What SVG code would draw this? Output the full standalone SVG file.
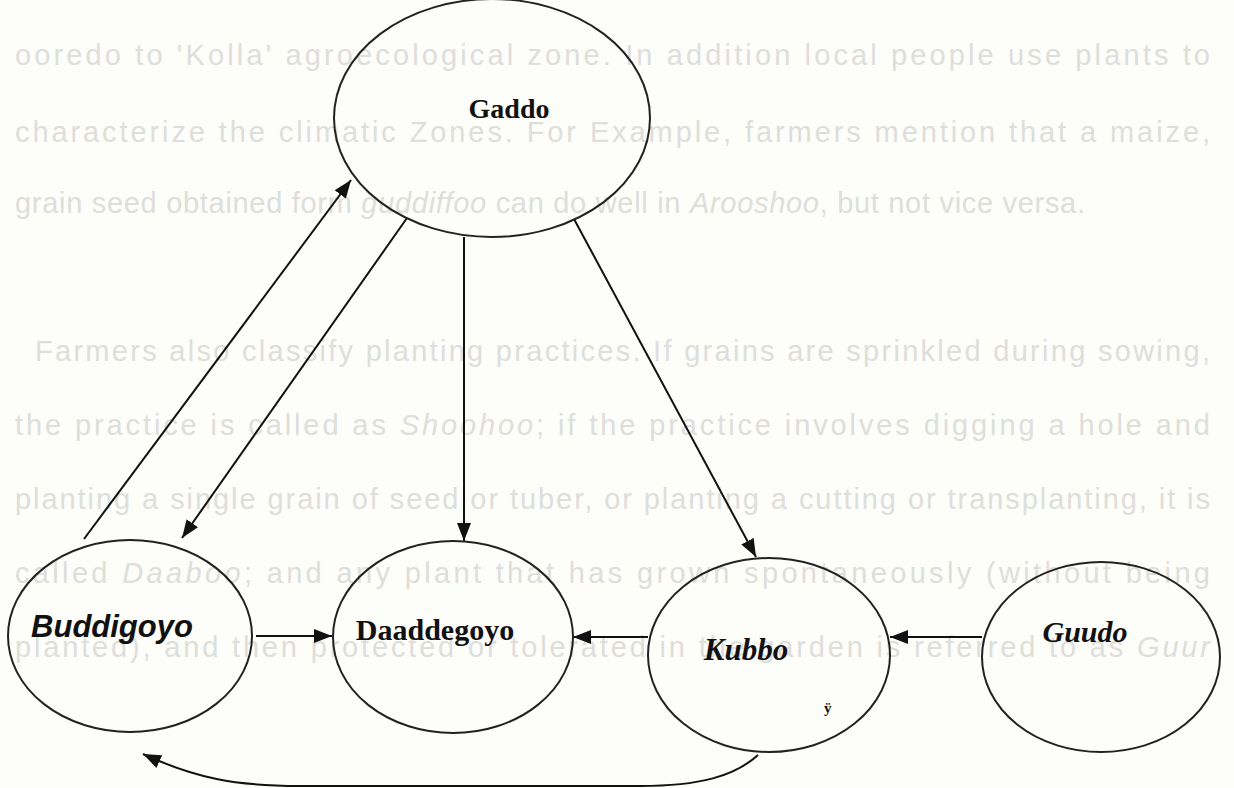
<svg xmlns="http://www.w3.org/2000/svg" width="1234" height="788" viewBox="0 0 1234 788">
  <defs>
    <marker id="ah" viewBox="0 0 18 14" refX="18" refY="7" markerWidth="18" markerHeight="14" markerUnits="userSpaceOnUse" orient="auto">
      <path d="M0,0 L18,7 L0,14 z" fill="#111"/>
    </marker>
    <style>
      .bg { font-family: "Liberation Sans", Arial, sans-serif; font-size: 29px; fill: #dededa; }
      .node { fill: none; stroke: #222; stroke-width: 2; }
      .edge { fill: none; stroke: #111; stroke-width: 2; marker-end: url(#ah); }
      .lbl { font-family: "Liberation Serif", "Times New Roman", serif; font-weight: bold; fill: #111; }
      .sans { font-family: "Liberation Sans", Arial, sans-serif; font-weight: bold; font-style: italic; fill: #111; }
    </style>
  </defs>
  <rect width="1234" height="788" fill="#fdfdfa"/>

  <g id="background-text">
    <text class="bg" x="15" y="65" textLength="1195" lengthAdjust="spacing">ooredo to 'Kolla' agroecological zone. In addition local people use plants to</text>
    <text class="bg" x="15" y="142" textLength="1195" lengthAdjust="spacing">characterize the climatic Zones.  For Example, farmers mention that a maize,</text>
    <text class="bg" x="15" y="213" textLength="1070" lengthAdjust="spacing">grain seed obtained form <tspan font-style="italic">guddiffoo</tspan> can do well in <tspan font-style="italic">Arooshoo</tspan>, but not vice versa.</text>
    <text class="bg" x="35" y="361" textLength="1175" lengthAdjust="spacing">Farmers also classify planting practices.  If grains are sprinkled during sowing,</text>
    <text class="bg" x="15" y="435" textLength="1195" lengthAdjust="spacing">the practice is called as <tspan font-style="italic">Shoohoo</tspan>; if the practice involves digging a hole and</text>
    <text class="bg" x="15" y="509" textLength="1195" lengthAdjust="spacing">planting a single grain of seed or tuber, or planting a cutting or transplanting, it is</text>
    <text class="bg" x="15" y="583" textLength="1195" lengthAdjust="spacing">called <tspan font-style="italic">Daaboo</tspan>; and any plant that has grown spontaneously (without being</text>
    <text class="bg" x="15" y="657" textLength="1195" lengthAdjust="spacing">planted), and then  protected or tolerated in the garden is referred to as <tspan font-style="italic">Guur</tspan></text>
  </g>

  <g id="connectors">
    <line class="edge" x1="84" y1="539" x2="351" y2="180"/>
    <line class="edge" x1="407" y1="218" x2="182" y2="538"/>
    <line class="edge" x1="464" y1="237" x2="464" y2="541"/>
    <line class="edge" x1="574" y1="219" x2="756" y2="557"/>
    <line class="edge" x1="256" y1="636" x2="332" y2="636"/>
    <line class="edge" x1="648" y1="637" x2="573" y2="637"/>
    <line class="edge" x1="982" y1="637" x2="890" y2="637"/>
    <path class="edge" d="M758,755 C735,776 700,786 640,786 L300,786 C235,786 195,778 143,754"/>
  </g>

  <g id="node-gaddo">
    <ellipse class="node" cx="492" cy="118" rx="158" ry="119"/>
    <text class="lbl" x="509" y="118" font-size="28" text-anchor="middle">Gaddo</text>
  </g>
  <g id="node-buddigoyo">
    <ellipse class="node" cx="130" cy="636" rx="122" ry="96"/>
    <text class="sans" x="112" y="637" font-size="31" text-anchor="middle">Buddigoyo</text>
  </g>
  <g id="node-daaddegoyo">
    <ellipse class="node" cx="453" cy="637" rx="120" ry="96"/>
    <text class="lbl" x="435" y="640" font-size="30" text-anchor="middle">Daaddegoyo</text>
  </g>
  <g id="node-kubbo">
    <ellipse class="node" cx="769" cy="655" rx="121" ry="97"/>
    <text class="lbl" x="746" y="660" font-size="31" font-style="italic" text-anchor="middle">Kubbo</text>
    <text class="lbl" x="824" y="713" font-size="15">ÿ</text>
  </g>
  <g id="node-guudo">
    <ellipse class="node" cx="1101" cy="657" rx="119" ry="95"/>
    <text class="lbl" x="1085" y="642" font-size="30" font-style="italic" text-anchor="middle">Guudo</text>
  </g>
</svg>
